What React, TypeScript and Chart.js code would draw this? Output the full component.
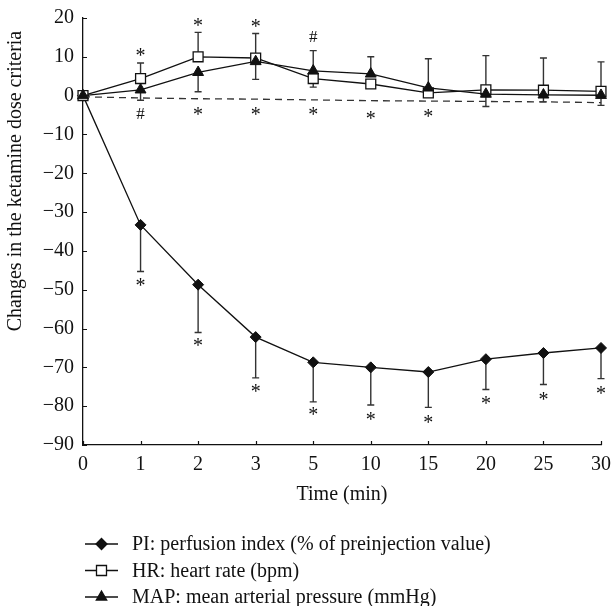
import React, { useEffect, useRef } from 'react';
import { Chart, registerables } from 'chart.js';

Chart.register(...registerables);

// ---------------- data ----------------
const timeLabels = ['0', '1', '2', '3', '5', '10', '15', '20', '25', '30'];

const piValues = [0, -33.3, -48.7, -62.2, -68.7, -70.0, -71.2, -67.9, -66.3, -65.0];
const piErrDown = [null, 12.0, 12.3, 10.5, 10.2, 9.7, 9.1, 7.8, 8.1, 7.9];

const hrValues = [0, 4.4, 10.0, 9.7, 4.4, 3.0, 0.7, 1.5, 1.4, 1.1];
const hrErrUp = [null, 4.0, 6.3, 6.3, null, null, null, 8.8, 8.3, 7.6];
const hrErrDown = [null, null, null, null, 2.2, null, null, null, null, null];

const mapValues = [0, 1.5, 6.0, 8.8, 6.4, 5.6, 2.0, 0.4, 0.2, 0.1];
const mapErrUp = [null, null, null, null, 5.2, 4.4, 7.5, null, null, null];
const mapErrDown = [null, 2.7, 5.0, 4.6, null, null, null, 3.2, 1.8, 2.6];

const refLine = [-0.3, -0.6, -0.8, -0.9, -1.1, -1.3, -1.4, -1.5, -1.6, -1.8];

const yMin = -90;
const yMax = 20;
const yStep = 10;

// significance marks
const markIndex = [1, 2, 3, 4, 1, 2, 3, 4, 5, 6, 1, 2, 3, 4, 5, 6, 7, 8, 9];
const markValue = [11.3, 19.0, 18.6, 15.2, -4.6, -4.0, -4.0, -4.0, -5.0, -4.4, -48.0, -63.4, -75.4, -81.2, -82.6, -83.4, -78.3, -77.4, -75.9];
const markSymbol = ['*', '*', '*', '#', '#', '*', '*', '*', '*', '*', '*', '*', '*', '*', '*', '*', '*', '*', '*'];

const legendLabels = [
  'PI: perfusion index (% of preinjection value)',
  'HR: heart rate (bpm)',
  'MAP: mean arterial pressure (mmHg)',
];

const xTitle = 'Time (min)';
const yTitle = 'Changes in the ketamine dose criteria';

// ---------------- styles ----------------
const FONT_FAMILY = '"Liberation Serif", "Times New Roman", serif';
const FONT_SIZE = 20;
const INK = '#111';
const ERR = '#333';

function drawMarker(ctx: CanvasRenderingContext2D, kind: string, x: number, y: number) {
  ctx.save();
  ctx.lineWidth = 1.3;
  ctx.strokeStyle = INK;
  ctx.beginPath();
  if (kind === 'diamond') {
    const r = 5.5;
    ctx.moveTo(x, y - r);
    ctx.lineTo(x + r, y);
    ctx.lineTo(x, y + r);
    ctx.lineTo(x - r, y);
    ctx.closePath();
    ctx.fillStyle = INK;
    ctx.fill();
    ctx.stroke();
  } else if (kind === 'square') {
    const h = 5;
    ctx.rect(x - h, y - h, 2 * h, 2 * h);
    ctx.fillStyle = '#fff';
    ctx.fill();
    ctx.stroke();
  } else {
    const r = 6;
    ctx.moveTo(x, y - r);
    ctx.lineTo(x + r * 0.866, y + r * 0.5);
    ctx.lineTo(x - r * 0.866, y + r * 0.5);
    ctx.closePath();
    ctx.fillStyle = INK;
    ctx.fill();
    ctx.stroke();
  }
  ctx.restore();
}

const overlayPlugin = {
  id: 'overlay',
  beforeDatasetsDraw(chart: any) {
    const ctx: CanvasRenderingContext2D = chart.ctx;
    const xs = chart.scales.x;
    const ys = chart.scales.y;
    const series: [number[], (number | null)[], number][] = [
      [piValues, piErrDown, -1],
      [hrValues, hrErrUp, 1],
      [hrValues, hrErrDown, -1],
      [mapValues, mapErrUp, 1],
      [mapValues, mapErrDown, -1],
    ];
    ctx.save();
    ctx.strokeStyle = ERR;
    ctx.lineWidth = 1.4;
    for (const [vals, errs, dir] of series) {
      vals.forEach((v, i) => {
        const e = errs[i];
        if (e == null) return;
        const x = xs.getPixelForValue(i);
        const y1 = ys.getPixelForValue(v);
        const y2 = ys.getPixelForValue(v + dir * e);
        ctx.beginPath();
        ctx.moveTo(x, y1);
        ctx.lineTo(x, y2);
        ctx.moveTo(x - 3.5, y2);
        ctx.lineTo(x + 3.5, y2);
        ctx.stroke();
      });
    }
    ctx.restore();
  },
  afterDraw(chart: any) {
    const ctx: CanvasRenderingContext2D = chart.ctx;
    const xs = chart.scales.x;
    const ys = chart.scales.y;
    const area = chart.chartArea;
    ctx.save();
    // inward tick marks
    ctx.strokeStyle = INK;
    ctx.lineWidth = 1.2;
    ctx.beginPath();
    ys.ticks.forEach((t: any) => {
      const y = Math.round(ys.getPixelForValue(t.value)) + 0.5;
      ctx.moveTo(area.left, y);
      ctx.lineTo(area.left + 4, y);
    });
    timeLabels.forEach((_, i) => {
      const x = Math.round(xs.getPixelForValue(i)) + 0.5;
      ctx.moveTo(x, area.bottom);
      ctx.lineTo(x, area.bottom - 4);
    });
    ctx.stroke();

    // significance marks
    ctx.fillStyle = INK;
    ctx.textAlign = 'center';
    ctx.textBaseline = 'alphabetic';
    markIndex.forEach((idx, k) => {
      const sym = markSymbol[k];
      ctx.font = (sym === '*' ? '20px ' : '17px ') + FONT_FAMILY;
      const m = ctx.measureText(sym);
      const asc = m.actualBoundingBoxAscent;
      const desc = m.actualBoundingBoxDescent;
      const cx = xs.getPixelForValue(idx);
      const cy = ys.getPixelForValue(markValue[k]);
      ctx.fillText(sym, cx, cy + (asc - desc) / 2);
    });

    // y title
    ctx.font = FONT_SIZE + 'px ' + FONT_FAMILY;
    ctx.textAlign = 'center';
    ctx.textBaseline = 'middle';
    ctx.save();
    ctx.translate(16, 181);
    ctx.rotate(-Math.PI / 2);
    ctx.fillText(yTitle, 0, 0);
    ctx.restore();

    // legend
    const kinds = ['diamond', 'square', 'triangle'];
    const rowY = [544, 570.5, 597];
    legendLabels.forEach((lab, i) => {
      const y = rowY[i];
      ctx.strokeStyle = INK;
      ctx.lineWidth = 1.3;
      ctx.beginPath();
      ctx.moveTo(85, y);
      ctx.lineTo(118, y);
      ctx.stroke();
      drawMarker(ctx, kinds[i], 101.5, y);
      ctx.fillStyle = INK;
      ctx.textAlign = 'left';
      ctx.textBaseline = 'middle';
      ctx.font = FONT_SIZE + 'px ' + FONT_FAMILY;
      ctx.fillText(lab, 132, y + 1);
    });
    ctx.restore();
  },
};

export default function App() {
  const ref = useRef<HTMLCanvasElement | null>(null);

  useEffect(() => {
    if (!ref.current) return;
    const font = { family: FONT_FAMILY, size: FONT_SIZE };
    const chart = new Chart(ref.current, {
      type: 'line',
      data: {
        labels: timeLabels,
        datasets: [
          {
            label: 'MAP',
            data: mapValues,
            borderColor: INK,
            borderWidth: 1.3,
            pointStyle: 'triangle',
            pointRadius: 6.3,
            pointBackgroundColor: INK,
            pointBorderColor: INK,
            pointBorderWidth: 1,
            tension: 0,
            order: 0,
          },
          {
            label: 'HR',
            data: hrValues,
            borderColor: INK,
            borderWidth: 1.3,
            pointStyle: 'rect',
            pointRadius: 7,
            pointBackgroundColor: '#fff',
            pointBorderColor: INK,
            pointBorderWidth: 1.3,
            tension: 0,
            order: 1,
          },
          {
            label: 'PI',
            data: piValues,
            borderColor: INK,
            borderWidth: 1.3,
            pointStyle: 'rectRot',
            pointRadius: 5.5,
            pointBackgroundColor: INK,
            pointBorderColor: INK,
            pointBorderWidth: 1,
            tension: 0,
            order: 2,
          },
          {
            label: 'ref',
            data: refLine,
            borderColor: '#333',
            borderWidth: 1.3,
            borderDash: [7, 5],
            pointRadius: 0,
            tension: 0,
            order: 3,
          },
        ],
      },
      options: {
        responsive: false,
        animation: false,
        layout: { padding: { left: 6, right: 11, top: 18, bottom: 99 } },
        plugins: {
          legend: { display: false },
          tooltip: { enabled: false },
        },
        scales: {
          x: {
            type: 'category',
            offset: false,
            grid: { display: false, drawTicks: false },
            border: { display: true, color: INK, width: 1.3 },
            ticks: { font, color: INK, padding: 8, maxRotation: 0, autoSkip: false },
            title: { display: true, text: xTitle, font, color: INK, padding: 0 },
            afterFit: (s: any) => {
              s.height = 62;
              s.paddingLeft = 0;
              s.paddingRight = 0;
            },
          },
          y: {
            min: yMin,
            max: yMax,
            grid: { display: false, drawTicks: false },
            border: { display: true, color: INK, width: 1.3 },
            ticks: {
              stepSize: yStep,
              font,
              color: INK,
              padding: 9,
              callback: (v: any) => (v < 0 ? '\u2212' + Math.abs(v) : String(v)),
            },
            afterFit: (s: any) => {
              s.width = 77;
              s.paddingTop = 0;
              s.paddingBottom = 0;
            },
          },
        },
      },
      plugins: [overlayPlugin],
    } as any);
    return () => chart.destroy();
  }, []);

  return (
    <div style={{ position: 'absolute', left: 0, top: 0, width: 612, height: 606, background: '#fff' }}>
      <canvas ref={ref} width={612} height={606} style={{ width: 612, height: 606, display: 'block' }} />
    </div>
  );
}
